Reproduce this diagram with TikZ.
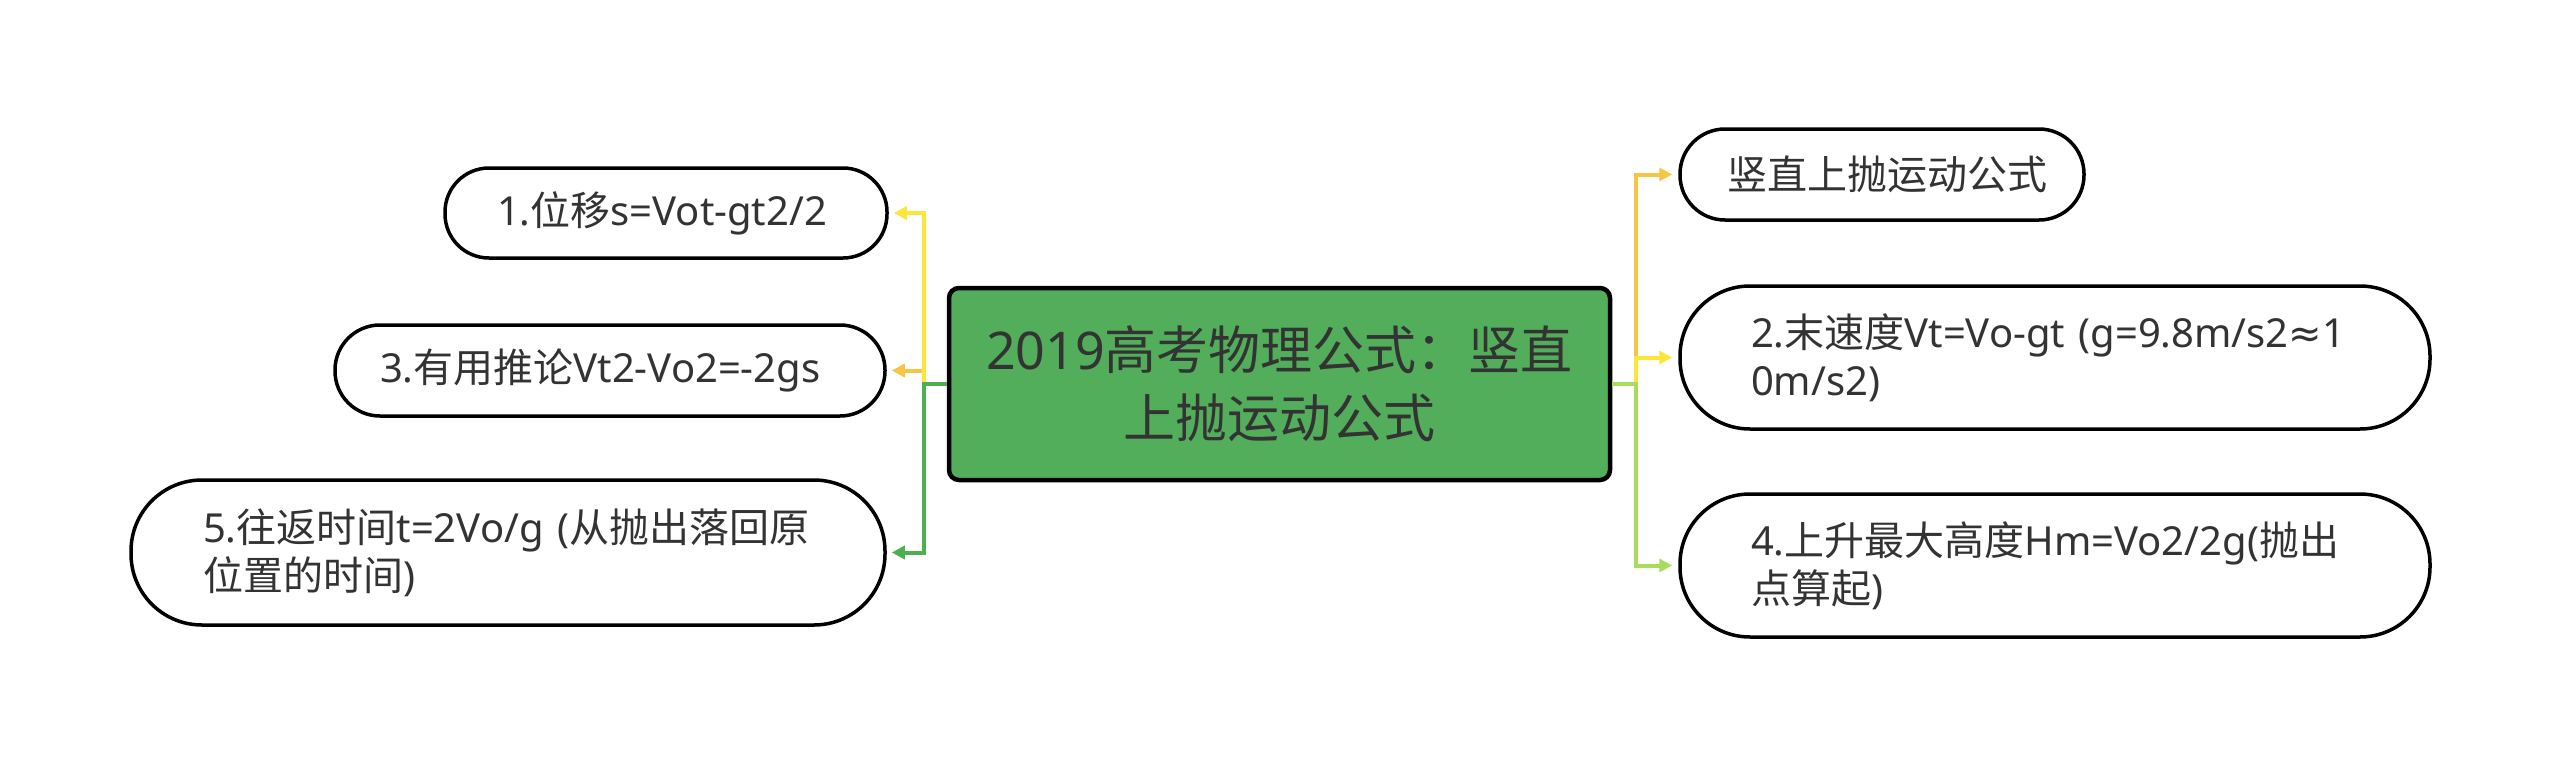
\documentclass[tikz,border=0pt]{standalone}
\usepackage{fontspec}
\setmainfont{Noto Sans}
\newfontfamily\zhfont{Noto Sans CJK SC}
\newfontfamily\symfont{DejaVu Sans}
\newcommand\zh[1]{{\zhfont #1}}
\usetikzlibrary{arrows.meta}
\definecolor{cgreen}{HTML}{52AE5A}
\definecolor{lgreen}{HTML}{4CAF50}
\definecolor{cyellow}{HTML}{FCE63A}
\definecolor{corange}{HTML}{F9C443}
\definecolor{clime}{HTML}{A8DC5C}
\definecolor{ctext}{HTML}{333333}
\begin{document}
\begin{tikzpicture}[x=1pt,y=-1pt,
  pill/.style={draw=black, line width=3.5pt, fill=white, text=ctext,
    font=\fontsize{40}{48}\selectfont, align=left, inner sep=0pt},
  conn/.style={line width=4pt, -{Triangle[length=13pt,width=13pt]}},
  centerbox/.style={draw=black, line width=4.5pt, fill=cgreen, rounded corners=10pt,
    text=ctext, font=\fontsize{52}{68}\selectfont, align=center, inner sep=0pt}
]
\useasboundingbox (0,0) rectangle (2560,768);

\node[centerbox, minimum width=661pt, minimum height=192pt] (C) at (1279.5,384)
  {2019\zh{高考物理公式：竖直}\\\zh{上抛运动公式}};

\node[pill, minimum width=442pt, minimum height=90pt, text width=338pt, rounded corners=44pt]
  (L1) at (666,213) {1.\zh{位移}s=Vot-gt2/2};
\node[pill, minimum width=550pt, minimum height=91pt, text width=460pt, rounded corners=45pt]
  (L3) at (610,370.5) {3.\zh{有用推论}Vt2-Vo2=-2gs};
\node[pill, minimum width=754pt, minimum height=145pt, text width=610pt, rounded corners=71pt]
  (L5) at (508,552.5) {\mbox{5.\zh{往返时间}t=2Vo/g (\zh{从抛出落回原}}\\\zh{位置的时间})};

\node[pill, minimum width=404pt, minimum height=91pt, text width=310pt, rounded corners=45pt]
  (R0) at (1882,174.5) {\zh{竖直上抛运动公式}};
\node[pill, minimum width=750pt, minimum height=143pt, text width=608pt, rounded corners=70pt]
  (R2) at (2055,357.5) {\mbox{2.\zh{末速度}Vt=Vo-gt (g=9.8m/s2{\symfont ≈}1}\\0m/s2)};
\node[pill, minimum width=750pt, minimum height=143pt, text width=608pt, rounded corners=70pt]
  (R4) at (2055,565.5) {\mbox{4.\zh{上升最大高度}Hm=Vo2/2g(\zh{抛出}}\\\zh{点算起})};

% left connectors
\draw[conn, corange] (C.west) -- ++(-23,0) |- ([xshift=5pt]L3.east);
\draw[conn, cyellow] (C.west) -- ++(-23,0) |- ([xshift=5pt]L1.east);
\draw[conn, lgreen] (C.west) -- ++(-23,0) |- ([xshift=5pt]L5.east);

% right connectors
\draw[conn, corange] (C.east) -- ++(24,0) |- ([xshift=-6pt]R0.west);
\draw[conn, cyellow] (C.east) -- ++(24,0) |- ([xshift=-6pt]R2.west);
\draw[conn, clime] (C.east) -- ++(24,0) |- ([xshift=-6pt]R4.west);
\end{tikzpicture}
\end{document}
